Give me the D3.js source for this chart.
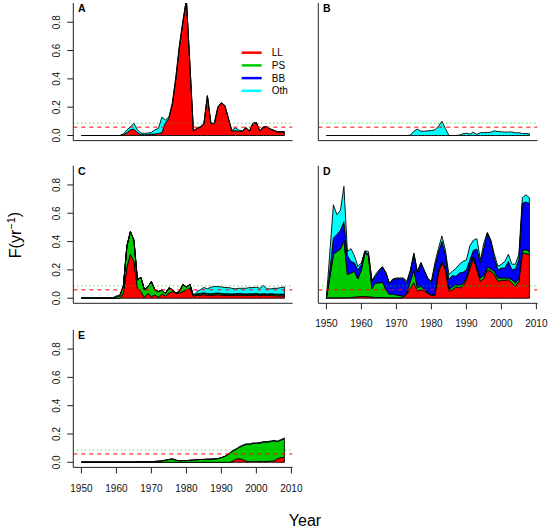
<!DOCTYPE html>
<html>
<head>
<meta charset="utf-8">
<script src="https://cdn.jsdelivr.net/npm/d3@7"></script>
<style>
  html, body { margin: 0; padding: 0; background: #fff; }
  svg { display: block; font-family: "Liberation Sans", Arial, Helvetica, sans-serif; }
</style>
</head>
<body>
<div id="chart"></div>
<script>
// ---------- data ----------
const years = d3.range(1950, 2009);
const seriesKeys = ["LL", "PS", "BB", "Oth"];
const seriesColors = ["#FF0000", "#00CD00", "#0000FF", "#00FFFF"];
const yTicks = [0, 0.2, 0.4, 0.6, 0.8];
const xTicks = [1950, 1960, 1970, 1980, 1990, 2000, 2010];
const refGreen = 0.087;   // dotted reference level
const refRed = 0.059;     // dashed reference level

// Panel A
const A_LL = [0,0,0,0,0,0,0,0,0,0,
  0,0,0.005,0.02,0.04,0.045,0.02,0.005,0.005,0.005,
  0.01,0.01,0.015,0.02,0.09,0.12,0.22,0.4,0.62,0.8,
  0.96,0.5,0.03,0.05,0.06,0.08,0.28,0.085,0.085,0.2,
  0.23,0.21,0.12,0.03,0.035,0.03,0.03,0.055,0.03,0.085,
  0.09,0.03,0.06,0.06,0.045,0.035,0.025,0.025,0.025];
const A_Oth = [0,0,0,0,0,0,0,0,0,0,
  0,0,0.005,0.02,0.02,0.042,0.02,0.012,0.01,0.012,
  0.012,0.03,0.035,0.11,0.02,0.01,0.015,0.02,0.02,0.01,
  0,0,0.003,0.002,0.002,0.002,0.002,0.002,0.002,0.002,
  0.002,0.002,0.002,0.005,0.02,0.008,0.003,0.002,0.002,0.002,
  0.002,0.002,0.002,0.002,0.002,0.002,0.002,0.002,0.002];

// Panel B
const B_Oth = [0,0,0,0,0,0,0,0,0,0,
  0,0,0,0,0,0,0,0,0,0,
  0,0,0,0,0.003,0.03,0.045,0.03,0.03,0.033,
  0.035,0.04,0.065,0.1,0.05,0,0,0,0.003,0.012,
  0.016,0.01,0.023,0.007,0.02,0.02,0.022,0.023,0.033,0.028,
  0.026,0.024,0.025,0.025,0.019,0.02,0.014,0.014,0.012];

// Panel C
const C_LL = [0,0,0,0,0,0,0,0,0,0,
  0,0,0.035,0.22,0.31,0.26,0.07,0.047,0.005,0.035,
  0.012,0.023,0.007,0.03,0.015,0.035,0.047,0.035,0.035,0.047,
  0.06,0.07,0.015,0.02,0.022,0.025,0.022,0.02,0.022,0.025,
  0.022,0.02,0.02,0.018,0.02,0.022,0.02,0.018,0.02,0.02,
  0.022,0.018,0.02,0.018,0.02,0.018,0.016,0.017,0.016];
const C_PS = [0,0,0,0,0,0,0,0,0,0,
  0.01,0.018,0.05,0.15,0.16,0.15,0.06,0.1,0.055,0.045,
  0.105,0.035,0.04,0.028,0.018,0.038,0.013,0,0.013,0.05,
  0.018,0.028,0.003,0.008,0.008,0.009,0.008,0.008,0.009,0.008,
  0.008,0.008,0.008,0.008,0.008,0.008,0.008,0.008,0.008,0.008,
  0.008,0.008,0.008,0.008,0.008,0.008,0.008,0.008,0.008];
const C_BB = [0,0,0,0,0,0,0,0,0,0,
  0,0,0,0,0,0,0,0,0,0,
  0,0,0,0,0,0,0,0,0,0,
  0,0,0,0.004,0.004,0.004,0.004,0.004,0.004,0.004,
  0.004,0.004,0.004,0.004,0.004,0.004,0.004,0.004,0.004,0.004,
  0.004,0.004,0.004,0.004,0.004,0.004,0.004,0.004,0.004];
const C_Oth = [0.004,0.005,0.004,0.003,0.002,0.002,0.002,0.002,0.002,0.004,
  0.006,0.005,0.005,0,0,0,0,0,0,0,
  0,0,0,0,0,0,0,0,0,0,
  0,0,0.002,0.015,0.026,0.038,0.032,0.046,0.048,0.045,
  0.046,0.043,0.043,0.04,0.034,0.036,0.038,0.04,0.043,0.043,
  0.044,0.04,0.058,0.036,0.034,0.04,0.042,0.046,0.052];

// Panel D
const D_LL = [0,0.003,0.003,0.003,0.003,0.003,0.003,0.005,0.008,0.01,
  0.012,0.012,0.01,0.008,0.005,0.005,0.005,0.004,0.003,0.003,
  0.003,0.003,0.005,0.03,0.07,0.11,0.05,0.06,0.05,0.033,
  0.02,0.02,0.18,0.25,0.2,0.05,0.06,0.08,0.073,0.085,
  0.13,0.21,0.28,0.2,0.12,0.14,0.2,0.19,0.167,0.12,
  0.127,0.127,0.13,0.108,0.085,0.12,0.32,0.315,0.31];
const D_PS = [0,0.147,0.307,0.327,0.344,0.407,0.164,0.173,0.182,0.126,
  0.188,0.308,0.29,0.058,0.103,0.103,0.108,0.056,0.023,0.027,
  0.02,0.016,0.009,0.008,0.05,0.09,0.023,0.025,0.011,0.005,
  0.006,0.006,0.02,0.01,0.014,0.011,0.02,0.016,0.016,0.018,
  0.013,0.027,0.016,0.018,0.023,0.02,0.02,0.017,0.023,0.023,
  0.016,0.016,0.013,0.023,0.023,0.023,0.018,0.028,0.02];
const D_BB = [0,0.05,0.115,0.12,0.133,0.13,0.133,0.082,0.06,0.064,
  0.037,0.01,0.01,0.054,0.047,0.082,0.107,0.118,0.077,0.101,
  0.115,0.119,0.124,0.07,0.07,0.11,0.105,0.164,0.129,0.098,
  0.082,0.199,0.125,0.14,0.096,0.07,0.08,0.059,0.089,0.08,
  0.057,0.033,0.042,0.129,0.106,0.194,0.24,0.193,0.094,0.057,
  0.07,0.07,0.117,0.069,0.098,0.129,0.332,0.337,0.34];
const D_Oth = [0,0.13,0.235,0.14,0.14,0.25,0.03,0.09,0.05,0.025,
  0.013,0.005,0.02,0.003,0.012,0.01,0.003,0.002,0.003,0.005,
  0.005,0.005,0.005,0.012,0.01,0.01,0.012,0.003,0.007,0.004,
  0.012,0.025,0.025,0.04,0.03,0.036,0.03,0.055,0.062,0.077,
  0.07,0.1,0.072,0.073,0.021,0.036,0.005,0.01,0.026,0.025,
  0.027,0.047,0.05,0.04,0.034,0.038,0.04,0.05,0.04];

// Panel E
const E_LL = [0,0,0,0,0,0,0,0,0,0,
  0,0,0,0,0,0,0,0,0,0,
  0,0,0,0,0,0,0,0,0,0,
  0,0,0,0,0,0,0,0,0,0,
  0,0,0,0.005,0.02,0.026,0.02,0.008,0.005,0.006,
  0.006,0.005,0.005,0.005,0.008,0.01,0.025,0.033,0.035];
const E_PS = [0.002,0.002,0.002,0.002,0.002,0.002,0.002,0.002,0.002,0.002,
  0.002,0.002,0.002,0.002,0.002,0.002,0.004,0.004,0.004,0.004,
  0.004,0.006,0.008,0.01,0.015,0.02,0.024,0.015,0.01,0.012,
  0.012,0.014,0.016,0.018,0.02,0.02,0.022,0.022,0.024,0.026,
  0.033,0.042,0.057,0.071,0.068,0.078,0.096,0.118,0.121,0.127,
  0.127,0.131,0.137,0.137,0.138,0.141,0.121,0.123,0.133];
const E_Oth = [0,0,0,0,0,0,0,0,0,0,
  0,0,0,0,0,0,0,0,0,0,
  0,0,0,0,0,0,0,0,0,0,
  0,0,0,0,0,0,0,0,0,0,
  0,0,0,0.004,0.004,0.004,0.004,0.004,0.004,0.004,
  0.004,0.004,0.004,0.004,0.004,0.004,0.004,0.004,0.004];

const panels = [
  {id: "A", col: 0, row: 0, yAxis: true,  xAxis: false, legend: true,  series: {LL: A_LL, Oth: A_Oth}},
  {id: "B", col: 1, row: 0, yAxis: false, xAxis: false, legend: false, series: {Oth: B_Oth}},
  {id: "C", col: 0, row: 1, yAxis: true,  xAxis: false, legend: false, series: {LL: C_LL, PS: C_PS, BB: C_BB, Oth: C_Oth}},
  {id: "D", col: 1, row: 1, yAxis: false, xAxis: true,  legend: false, series: {LL: D_LL, PS: D_PS, BB: D_BB, Oth: D_Oth}},
  {id: "E", col: 0, row: 2, yAxis: true,  xAxis: true,  legend: false, series: {LL: E_LL, PS: E_PS, Oth: E_Oth}}
];

// ---------- layout ----------
const W = 550, H = 532;
const colLeft = [73.3, 318.3];
const rowTop = [3, 165.7, 329.8];
const plotW = 219.2, plotH = 137.6;
const FONT = '"Liberation Sans", Arial, Helvetica, sans-serif';

const svg = d3.select("#chart").append("svg")
  .attr("width", W).attr("height", H);

const color = d3.scaleOrdinal().domain(seriesKeys).range(seriesColors);

panels.forEach(p => {
  const left = colLeft[p.col], top = rowTop[p.row];
  const x = d3.scaleLinear().domain([1947.68, 2010.32]).range([left, left + plotW]);
  const y = d3.scaleLinear().domain([-0.036, 0.936]).range([top + plotH, top]);

  const rows = years.map((yr, i) => {
    const r = {year: yr};
    seriesKeys.forEach(k => { r[k] = p.series[k] ? p.series[k][i] : 0; });
    return r;
  });
  const stacked = d3.stack().keys(seriesKeys)(rows);

  const clipId = "clip" + p.id;
  svg.append("clipPath").attr("id", clipId)
    .append("rect").attr("x", left).attr("y", top).attr("width", plotW).attr("height", plotH);

  const g = svg.append("g").attr("clip-path", `url(#${clipId})`);
  const area = d3.area()
    .x(d => x(d.data.year))
    .y0(d => y(d[0]))
    .y1(d => y(d[1]));

  g.selectAll("path.layer")
    .data(stacked.filter(s => p.series[s.key]))
    .join("path")
    .attr("class", "layer")
    .attr("d", area)
    .attr("fill", s => color(s.key))
    .attr("stroke", "#000")
    .attr("stroke-width", 0.9)
    .attr("stroke-linejoin", "round");

  // reference lines
  g.append("line")
    .attr("x1", left).attr("x2", left + plotW)
    .attr("y1", y(refGreen)).attr("y2", y(refGreen))
    .attr("stroke", "#00CD00").attr("stroke-width", 1)
    .attr("stroke-dasharray", "1,3");
  g.append("line")
    .attr("x1", left).attr("x2", left + plotW)
    .attr("y1", y(refRed)).attr("y2", y(refRed))
    .attr("stroke", "#FF0000").attr("stroke-width", 1)
    .attr("stroke-dasharray", "4,4");

  // L-shaped box
  svg.append("path")
    .attr("d", `M${left},${top}V${top + plotH}H${left + plotW}`)
    .attr("fill", "none").attr("stroke", "#222").attr("stroke-width", 1);

  // y axis
  if (p.yAxis) {
    const ya = svg.append("g");
    yTicks.forEach(t => {
      ya.append("line")
        .attr("x1", left - 6).attr("x2", left)
        .attr("y1", y(t)).attr("y2", y(t))
        .attr("stroke", "#222").attr("stroke-width", 1);
      ya.append("text")
        .attr("transform", `translate(${left - 16.6},${y(t)}) rotate(-90)`)
        .attr("text-anchor", "middle")
        .attr("dy", "0.35em")
        .attr("font-size", 10)
        .attr("font-family", FONT)
        .attr("fill", "#111")
        .text(d3.format(".1f")(t));
    });
  }
  // x axis
  if (p.xAxis) {
    const xa = svg.append("g");
    const bottom = top + plotH;
    xTicks.forEach(t => {
      xa.append("line")
        .attr("x1", x(t)).attr("x2", x(t))
        .attr("y1", bottom).attr("y2", bottom + 6)
        .attr("stroke", "#222").attr("stroke-width", 1);
      xa.append("text")
        .attr("x", x(t)).attr("y", bottom + 20.6)
        .attr("dy", "0.35em")
        .attr("text-anchor", "middle")
        .attr("font-size", 10)
        .attr("font-family", FONT)
        .attr("fill", "#111")
        .text(t);
    });
  }

  // panel letter
  svg.append("text")
    .attr("x", left + 4.8).attr("y", top + 9.2)
    .attr("font-size", 10.5).attr("font-weight", "bold")
    .attr("font-family", FONT)
    .text(p.id);

  // legend
  if (p.legend) {
    const lg = svg.append("g");
    const ly = [52.7, 65.4, 78.1, 90.8];
    seriesKeys.forEach((k, i) => {
      lg.append("line")
        .attr("x1", 241.7).attr("x2", 261.7)
        .attr("y1", ly[i]).attr("y2", ly[i])
        .attr("stroke", color(k)).attr("stroke-width", 2.5);
      lg.append("text")
        .attr("x", 271.8).attr("y", ly[i]).attr("dy", "0.35em")
        .attr("font-size", 10).attr("font-family", FONT)
        .text(k);
    });
  }
});

// axis titles
svg.append("text")
  .attr("x", 305).attr("y", 520).attr("dy", "0.35em")
  .attr("text-anchor", "middle")
  .attr("font-size", 16).attr("font-family", FONT)
  .text("Year");

const yl = svg.append("text")
  .attr("transform", "translate(15,235) rotate(-90)")
  .attr("text-anchor", "middle")
  .attr("dy", "0.35em")
  .attr("font-size", 16).attr("font-family", FONT);
yl.append("tspan").text("F(yr");
yl.append("tspan").attr("font-size", 11).attr("dy", "-0.55em").text("−1");
yl.append("tspan").attr("dy", "0.35em").text(")");
</script>
</body>
</html>
